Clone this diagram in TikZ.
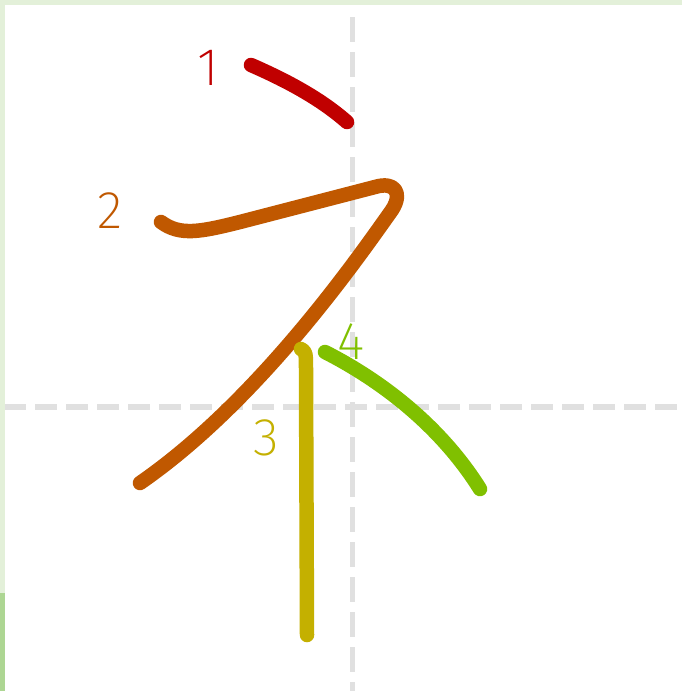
\documentclass[tikz,border=0pt]{standalone}
\usepackage{fontspec}
\IfFontExistsTF{Fira Sans ExtraLight}{\newfontfamily\numfont{Fira Sans ExtraLight}}{%
 \IfFontExistsTF{Fira Sans Light}{\newfontfamily\numfont{Fira Sans Light}}{%
  \IfFontExistsTF{Lato Light}{\newfontfamily\numfont{Lato Light}}{%
   \newfontfamily\numfont{Liberation Sans}}}}
\definecolor{cRed}{HTML}{C00000}
\definecolor{cOrange}{HTML}{C05800}
\definecolor{cYellow}{HTML}{C4B000}
\definecolor{cGreen}{HTML}{80C000}
\definecolor{cBorder}{HTML}{E3F0D9}
\definecolor{cBorderDark}{HTML}{ADD693}
\definecolor{cGuide}{HTML}{E0E0E0}
\tikzset{
  brush/.style={line width=14.5pt, line cap=round, line join=round},
  guide/.style={draw=cGuide, line width=5.5pt},
  lab/.style={font=\numfont\fontsize{53}{53}\selectfont, inner sep=0pt, anchor=center}
}
\begin{document}
\begin{tikzpicture}[x=1pt,y=-1pt]
\useasboundingbox (0,0) rectangle (682,691);
\fill[white] (0,0) rectangle (682,691);
% guide lines
\draw[guide, dash pattern=on 25pt off 10pt] (352.5,17) -- (352.5,691);
\draw[guide, dash pattern=on 22pt off 9pt] (4,407) -- (682,407);
% border
\fill[cBorder] (0,0) rectangle (682,5);
\fill[cBorder] (0,0) rectangle (5,691);
\fill[cBorderDark] (0,593) rectangle (5,691);
% labels
\node[lab, text=cRed] (n1) at (208,67.5) {1};
\node[lab, text=cOrange] (n2) at (110,210.5) {2};
\node[lab, text=cYellow] (n3) at (266.5,438) {3};
\node[lab, text=cGreen] (n4) at (351,341.5) {4};
% strokes
\draw[brush, cRed] (251,65) .. controls (290,82) and (322,100) .. (347,122);
\draw[brush, cOrange] (161,222) .. controls (180,236) and (200,232) .. (240,222)
  -- (375,187) .. controls (395,181) and (403,193) .. (392,210)
  .. controls (360,255) and (260,400) .. (140,483);
\draw[brush, cYellow] (301,349) .. controls (306,352) .. (306,372) -- (307,635);
\draw[brush, cGreen] (325,352) .. controls (380,380) and (440,425) .. (480,489);
\end{tikzpicture}
\end{document}
